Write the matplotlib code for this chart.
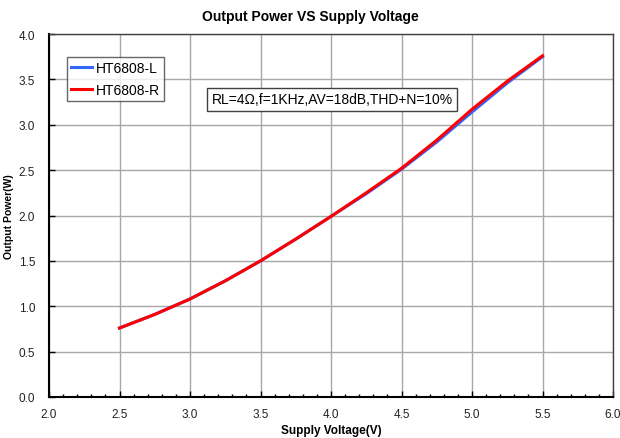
import matplotlib
matplotlib.use("Agg")
import matplotlib.pyplot as plt
from matplotlib.ticker import MultipleLocator

plt.rcParams['font.family'] = ['Liberation Sans', 'DejaVu Sans']

voltage = [2.5, 2.75, 3.0, 3.25, 3.5, 3.75, 4.0, 4.25, 4.5, 4.75, 5.0, 5.25, 5.5]
power_l = [0.76, 0.91, 1.08, 1.28, 1.50, 1.74, 1.99, 2.24, 2.51, 2.81, 3.14, 3.46, 3.75]
power_r = [0.76, 0.91, 1.08, 1.28, 1.50, 1.74, 1.99, 2.25, 2.52, 2.83, 3.17, 3.48, 3.76]
x_ticks = [2.0, 2.5, 3.0, 3.5, 4.0, 4.5, 5.0, 5.5, 6.0]
y_ticks = [0.0, 0.5, 1.0, 1.5, 2.0, 2.5, 3.0, 3.5, 4.0]

L, R, T, B = 49, 613, 35, 398
fig = plt.figure(figsize=(6.2, 4.39), dpi=100)
ax = fig.add_axes([L/620, 1 - B/439, (R-L)/620, (B-T)/439])

ax.plot(voltage, power_l, color='#3366ff', lw=2.2, label='HT6808-L', solid_joinstyle='round')
ax.plot(voltage, power_r, color='#ff0000', lw=2.2, label='HT6808-R', solid_joinstyle='round')

ax.set_xlim(2.0, 6.0)
ax.set_ylim(0.0, 4.0)
ax.set_xticks(x_ticks)
ax.set_yticks(y_ticks)
ax.set_xticklabels([f'{v:.1f}' for v in x_ticks])
ax.set_yticklabels([f'{v:.1f}' for v in y_ticks])
ax.xaxis.set_minor_locator(MultipleLocator(0.1))
ax.tick_params(axis='both', which='major', direction='in', length=4, width=1,
               labelsize=8.5, labelcolor='#222222')
ax.tick_params(axis='x', which='major', pad=8)
ax.tick_params(axis='y', which='major', pad=10)
ax.tick_params(axis='x', which='minor', direction='in', length=2, width=1)
ax.grid(True, which='major', color='#a8a8a8', lw=1)
ax.set_axisbelow(True)

for s in ['left', 'bottom']:
    ax.spines[s].set_color('black')
    ax.spines[s].set_linewidth(1.5)
for s in ['top', 'right']:
    ax.spines[s].set_color('#404040')
    ax.spines[s].set_linewidth(1)

fig.text(0.5, 1 - 17/439, 'Output Power VS Supply Voltage', ha='center', va='center',
         fontsize=10, fontweight='bold')
ax.set_xlabel('Supply Voltage(V)', fontsize=8.5, fontweight='bold', labelpad=3)
ax.set_ylabel('Output Power(W)', fontsize=7.5, fontweight='bold', labelpad=3)

leg = ax.legend(loc='upper left', bbox_to_anchor=((67-L)/(R-L), (B-58)/(B-T)), frameon=True,
                fancybox=False, edgecolor='#404040', fontsize=10, handlelength=1.5,
                handletextpad=0.3, borderpad=0.3, labelspacing=0.55, borderaxespad=0)
leg.get_frame().set_linewidth(1)

ax.text((332-L)/(R-L), (B-100.5)/(B-T), 'RL=4Ω,f=1KHz,AV=18dB,THD+N=10%', fontsize=10,
        va='center', ha='center', transform=ax.transAxes,
        bbox=dict(boxstyle='square,pad=0.3', fc='white', ec='#404040', lw=1))

fig.savefig('out.png', dpi=100)
